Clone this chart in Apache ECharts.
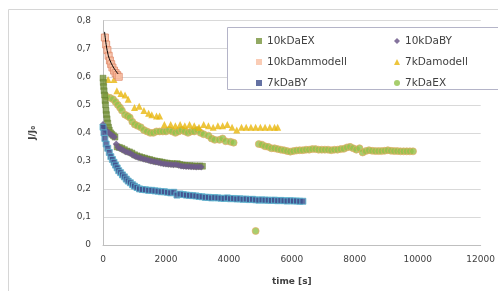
<!DOCTYPE html>
<html>
<head>
<meta charset="utf-8">
<script src="https://cdn.jsdelivr.net/npm/echarts@6/dist/echarts.min.js"></script>
<style>
  html, body { margin: 0; padding: 0; background: #fff; }
  #chart { width: 498px; height: 291px; }
</style>
</head>
<body>
<div id="chart"></div>
<script>
// [time s, J/J0]
const ex10 = [[0,0.595],[10,0.58],[20,0.565],[35,0.55],[50,0.535],[65,0.515],[80,0.5],[95,0.48],[110,0.465],[130,0.45],[150,0.435],[175,0.42],[200,0.41],[240,0.4],[280,0.395],[330,0.39],[380,0.385],
  [450,0.35],[520,0.348],[600,0.345],[680,0.34],[760,0.335],[840,0.332],[920,0.328],[1000,0.322],[1080,0.318],[1160,0.315],[1240,0.312],[1320,0.31],[1400,0.307],[1480,0.305],[1560,0.302],[1640,0.3],[1720,0.298],[1800,0.297],[1880,0.295],[1960,0.293],[2040,0.292],[2120,0.29],[2200,0.29],[2280,0.289],[2360,0.29],[2440,0.287],[2520,0.285],[2600,0.284],[2680,0.283],[2760,0.283],[2840,0.282],[2920,0.282],[3000,0.281],[3080,0.282],[3160,0.281]];
const by10 = [[0,0.43],[40,0.42],[80,0.41],[130,0.405],[180,0.4],[240,0.395],[300,0.39],[360,0.385],[420,0.36],[480,0.348],[560,0.343],[640,0.338],[720,0.333],[800,0.33],[880,0.326],[960,0.32],[1040,0.316],[1120,0.312],[1200,0.31],[1280,0.307],[1360,0.305],[1440,0.302],[1520,0.3],[1600,0.298],[1680,0.296],[1760,0.294],[1840,0.292],[1920,0.29],[2000,0.289],[2080,0.288],[2160,0.287],[2240,0.286],[2320,0.287],[2400,0.284],[2480,0.282],[2560,0.281],[2640,0.28],[2720,0.28],[2800,0.279],[2880,0.279],[2960,0.278],[3040,0.279],[3120,0.278]];
const dammodell10 = [[60,0.74],[100,0.715],[140,0.695],[180,0.675],[220,0.658],[260,0.645],[300,0.633],[350,0.622],[400,0.613],[450,0.606],[500,0.6]];
const modelCurve10 = [[50,0.76],[100,0.715],[150,0.685],[200,0.665],[300,0.64],[400,0.622],[480,0.61]];
const damodell7 = [[160,0.59],[350,0.59],[440,0.55],[570,0.54],[700,0.535],[800,0.52],[1000,0.49],[1150,0.495],[1300,0.48],[1450,0.47],[1550,0.465],[1700,0.46],[1800,0.46],[1950,0.43],[2150,0.43],[2300,0.425],[2450,0.43],[2600,0.425],[2750,0.43],[2900,0.425],[3050,0.42],[3200,0.43],[3350,0.425],[3500,0.42],[3650,0.425],[3800,0.425],[3950,0.43],[4100,0.42],[4250,0.41],[4400,0.42],[4550,0.42],[4700,0.42],[4850,0.42],[5000,0.42],[5150,0.42],[5300,0.42],[5450,0.42],[5550,0.42]];
const by7 = [[0,0.42],[30,0.4],[60,0.38],[100,0.36],[150,0.345],[200,0.33],[250,0.315],[300,0.305],[350,0.295],[400,0.285],[450,0.275],[500,0.265],[560,0.258],[620,0.25],[680,0.243],[740,0.235],[800,0.228],[870,0.222],[940,0.215],[1000,0.21],[1080,0.205],[1160,0.2],[1250,0.198],[1350,0.197],[1450,0.195],[1550,0.195],[1650,0.193],[1750,0.192],[1850,0.19],[1950,0.19],[2050,0.188],[2150,0.186],[2250,0.188],[2350,0.178],[2450,0.182],[2550,0.18],[2650,0.178],[2750,0.177],[2850,0.176],[2950,0.175],[3050,0.173],[3150,0.172],[3250,0.17],
  [3350,0.17],[3450,0.168],[3550,0.169],[3650,0.168],[3750,0.167],[3850,0.166],[3950,0.168],[4050,0.165],[4150,0.166],[4250,0.164],[4350,0.165],[4450,0.163],[4550,0.164],[4650,0.162],[4750,0.163],[4850,0.161],[4950,0.16],[5050,0.161],[5150,0.16],[5250,0.16],[5350,0.159],[5450,0.16],[5550,0.158],[5650,0.159],[5750,0.158],[5850,0.157],[5950,0.158],[6050,0.157],[6150,0.157],[6250,0.156],[6350,0.156]];
const ex7 = [[100,0.53],[220,0.525],[320,0.52],[400,0.51],[470,0.5],[540,0.49],[600,0.48],[700,0.465],[780,0.46],[850,0.455],[930,0.44],[1010,0.43],[1100,0.425],[1200,0.42],[1300,0.41],[1400,0.405],[1500,0.4],[1600,0.4],[1700,0.405],[1800,0.405],[1900,0.405],[2000,0.405],[2100,0.41],[2200,0.405],[2300,0.4],[2400,0.405],[2500,0.41],[2600,0.405],[2700,0.4],[2800,0.405],[2900,0.405],[3000,0.41],[3100,0.4],[3200,0.395],[3350,0.39],[3450,0.38],[3550,0.375],[3700,0.375],[3800,0.38],[3900,0.37],[4050,0.368],[4150,0.365],
  [4850,0.05],
  [4950,0.36],[5050,0.358],[5150,0.352],[5250,0.35],[5350,0.345],[5450,0.345],[5550,0.342],[5650,0.34],[5750,0.338],[5850,0.335],[5950,0.333],[6050,0.335],[6150,0.337],[6250,0.338],[6350,0.338],[6450,0.34],[6550,0.34],[6650,0.342],[6750,0.342],[6850,0.34],[6950,0.34],[7050,0.34],[7150,0.34],[7250,0.338],[7350,0.34],[7450,0.34],[7550,0.342],[7650,0.343],[7750,0.348],[7850,0.35],[7950,0.345],[8050,0.34],[8150,0.345],[8250,0.33],[8350,0.335],[8450,0.338],[8550,0.336],[8650,0.335],[8750,0.335],[8850,0.335],[8950,0.336],[9050,0.338],[9150,0.336],[9250,0.335],[9350,0.335],[9450,0.334],[9550,0.334],[9650,0.334],[9750,0.334],[9850,0.334]];

const legendLeft = ['10kDaEX', '10kDammodell', '7kDaBY'];
const legendRight = ['10kDaBY', '7kDamodell', '7kDaEX'];

let mychart = echarts.init(document.getElementById('chart'));
const legendText = { color: '#404040', fontSize: 10.5, fontFamily: 'DejaVu Sans', lineHeight: 12 };
const legendIcon = { borderWidth: 0 };
let option = {
  animation: false,
  textStyle: { fontFamily: 'DejaVu Sans' },
  graphic: [
    { type: 'rect', shape: { x: 8.5, y: 9.5, width: 500, height: 300 }, style: { fill: 'none', stroke: '#d6d6d6', lineWidth: 1 }, silent: true },
    { type: 'rect', shape: { x: 227.5, y: 27.5, width: 280, height: 62 }, style: { fill: '#fff', stroke: '#b4b4c8', lineWidth: 1 }, z: 5 }
  ],
  grid: { left: 103, right: 15, top: 20.7, bottom: 41.7 },
  legend: [
    { data: legendLeft, orient: 'vertical', left: 251, top: 30, itemGap: 9, itemWidth: 6, itemHeight: 6, itemStyle: legendIcon, textStyle: legendText, z: 10 },
    { data: legendRight, orient: 'vertical', left: 389, top: 30, itemGap: 9, itemWidth: 6, itemHeight: 6, itemStyle: legendIcon, textStyle: legendText, z: 10 }
  ],
  xAxis: {
    type: 'value',
    min: 0,
    max: 12000,
    interval: 2000,
    name: 'time [s]',
    nameLocation: 'middle',
    nameGap: 32,
    nameTextStyle: { fontWeight: 'bold', fontSize: 9, color: '#404040' },
    axisLine: { lineStyle: { color: '#bfbfbf' } },
    axisTick: { show: false },
    splitLine: { show: false },
    axisLabel: { color: '#404040', fontSize: 9, margin: 10, formatter: v => String(v) }
  },
  yAxis: {
    type: 'value',
    min: 0,
    max: 0.8,
    interval: 0.1,
    name: 'J/J₀',
    nameLocation: 'middle',
    nameRotate: 90,
    nameGap: 66,
    nameTextStyle: { fontWeight: 'bold', fontSize: 9, color: '#404040' },
    axisLine: { show: true, lineStyle: { color: '#bfbfbf' } },
    axisTick: { show: false },
    splitLine: { lineStyle: { color: '#d9d9d9' } },
    axisLabel: {
      color: '#404040',
      fontSize: 9,
      margin: 12,
      formatter: v => (v === 0 ? '0' : v.toFixed(1).replace('.', ','))
    }
  },
  series: [
    {
      name: '7kDaEX', type: 'scatter', data: ex7, symbol: 'circle', symbolSize: 7,
      itemStyle: { color: '#92c24a', borderColor: '#eaa965', borderWidth: 0.8 }
    },
    {
      name: '7kDamodell', type: 'scatter', data: damodell7, symbol: 'triangle', symbolSize: 7,
      itemStyle: { color: '#e8b60c' }
    },
    {
      name: '10kDaEX', type: 'scatter', data: ex10, symbol: 'rect', symbolSize: 6,
      itemStyle: { color: '#77933c', borderColor: '#5f7a2e', borderWidth: 0.5 }
    },
    {
      name: '10kDaBY', type: 'scatter', data: by10, symbol: 'diamond', symbolSize: 7,
      itemStyle: { color: '#6e5a8c', opacity: 0.85 }
    },
    {
      name: '7kDaBY', type: 'scatter', data: by7, symbol: 'rect', symbolSize: 6,
      itemStyle: { color: '#3d4d8c', borderColor: '#5bb5d0', borderWidth: 1 }
    },
    {
      name: '10kDammodell', type: 'scatter', data: dammodell10, symbol: 'rect', symbolSize: 7,
      itemStyle: { color: '#f9bfa3', borderColor: '#e08a6a', borderWidth: 1 }
    },
    {
      name: 'model', type: 'line', data: modelCurve10, showSymbol: false, smooth: true,
      lineStyle: { color: '#000', width: 1 }, z: 4
    }
  ]
};
mychart.setOption(option);
</script>
</body>
</html>
